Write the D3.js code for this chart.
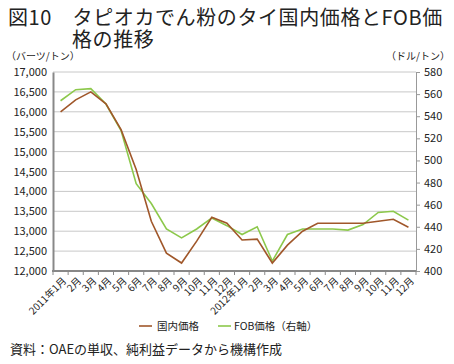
<!DOCTYPE html>
<html>
<head>
<meta charset="utf-8">
<script src="https://cdn.jsdelivr.net/npm/d3@7"></script>
<style>
body{margin:0;background:#fff;}
text{font-family:"Noto Sans CJK JP","Noto Sans",sans-serif;fill:#222;}
</style>
</head>
<body>
<svg id="chart" width="454" height="364"></svg>
<script>
const months = ["2011年1月","2月","3月","4月","5月","6月","7月","8月","9月","10月","11月","12月",
	"2012年1月","2月","3月","4月","5月","6月","7月","8月","9月","10月","11月","12月"];
const domestic = [16000,16300,16500,16200,15550,14550,13250,12450,12200,12750,13350,13200,
	12780,12800,12200,12650,13000,13200,13200,13200,13200,13250,13300,13100];
const fob = [554,564,565,551,527,479,461,438,430,438,448,441,
	433,440,409,433,438,438,438,437,442,453,454,446];
const leftTicks = d3.range(12000,17001,500);
const rightTicks = d3.range(400,581,20);

const svg = d3.select("#chart");
const m = {l:53, r:416, t:72, b:271};

const x = d3.scaleBand().domain(months.map((d,i)=>i)).range([m.l,m.r]);
const yL = d3.scaleLinear().domain([12000,17000]).range([m.b,m.t]);
const yR = d3.scaleLinear().domain([400,580]).range([m.b,m.t]);

// title (two lines)
svg.append("text").attr("x",8).attr("y",25).attr("font-size",20).attr("letter-spacing",0.6)
	.text("図10　タピオカでん粉のタイ国内価格とFOB価");
svg.append("text").attr("x",72).attr("y",47).attr("font-size",20).attr("letter-spacing",0.6)
	.text("格の推移");

svg.append("text").attr("x",6).attr("y",60).attr("font-size",10).text("（バーツ/トン）");
svg.append("text").attr("x",450).attr("y",60).attr("font-size",10).attr("text-anchor","end").text("（ドル/トン）");

// grid
svg.append("g").selectAll("line").data(leftTicks.slice(1)).join("line")
	.attr("x1",m.l).attr("x2",m.r)
	.attr("y1",d=>yL(d)).attr("y2",d=>yL(d))
	.attr("stroke","#c8c8c8").attr("stroke-width",1);

// left axis
const gL = svg.append("g").attr("transform",`translate(${m.l},0)`)
	.call(d3.axisLeft(yL).tickValues(leftTicks).tickFormat(d3.format(",")).tickSize(0).tickPadding(6));
gL.select(".domain").attr("stroke","#888").attr("stroke-width",2);
gL.selectAll("text").attr("font-size",11).attr("font-family","'Liberation Sans','DejaVu Sans',sans-serif").attr("fill","#222");

// right axis
const gR = svg.append("g").attr("transform",`translate(${m.r},0)`)
	.call(d3.axisRight(yR).tickValues(rightTicks).tickSize(4).tickPadding(4));
gR.select(".domain").attr("stroke","#999").attr("stroke-width",1);
gR.selectAll(".tick line").attr("stroke","#999");
gR.selectAll("text").attr("font-size",11).attr("font-family","'Liberation Sans','DejaVu Sans',sans-serif").attr("fill","#222");

// bottom axis
const gB = svg.append("g").attr("transform",`translate(0,${m.b})`);
gB.append("line").attr("x1",m.l-1).attr("x2",m.r).attr("stroke","#888").attr("stroke-width",2);
gB.selectAll("line.tk").data(d3.range(months.length+1)).join("line").attr("class","tk")
	.attr("x1",i=>m.l+i*x.step()).attr("x2",i=>m.l+i*x.step())
	.attr("y1",0).attr("y2",4).attr("stroke","#888");
gB.selectAll("text").data(months).join("text")
	.attr("transform",(d,i)=>`translate(${x(i)+x.bandwidth()/2+4},8) rotate(-45)`)
	.attr("text-anchor","end").attr("font-size",10).attr("dy","0.35em").text(d=>d);

// lines
const lineL = d3.line().x((d,i)=>x(i)+x.bandwidth()/2).y(d=>yL(d));
const lineR = d3.line().x((d,i)=>x(i)+x.bandwidth()/2).y(d=>yR(d));
svg.append("path").datum(fob).attr("d",lineR).attr("fill","none").attr("stroke","#8cc84b").attr("stroke-width",1.6);
svg.append("path").datum(domestic).attr("d",lineL).attr("fill","none").attr("stroke","#a0572a").attr("stroke-width",1.6);

// legend
const lg = svg.append("g").attr("transform","translate(0,326)");
lg.append("line").attr("x1",139).attr("x2",152).attr("stroke","#a0572a").attr("stroke-width",1.6);
lg.append("text").attr("x",157).attr("y",4).attr("font-size",10.5).text("国内価格");
lg.append("line").attr("x1",218).attr("x2",231).attr("stroke","#8cc84b").attr("stroke-width",1.6);
lg.append("text").attr("x",234).attr("y",4).attr("font-size",10.5).text("FOB価格（右軸）");

svg.append("text").attr("x",10).attr("y",354).attr("font-size",13).text("資料：OAEの単収、純利益データから機構作成");
</script>
</body>
</html>
